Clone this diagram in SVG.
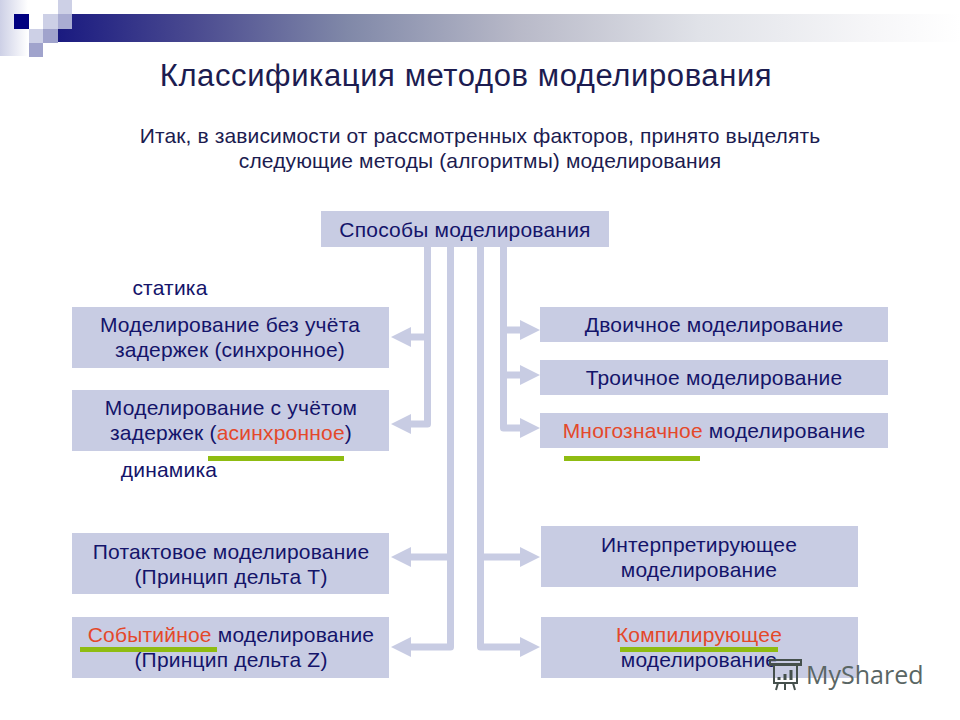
<svg xmlns="http://www.w3.org/2000/svg" width="960" height="720" viewBox="0 0 960 720">
<style>
text{font-family:"Liberation Sans",Arial,sans-serif;fill:#14146a;text-anchor:middle;font-size:21px;letter-spacing:.2px}
.box{fill:#c8cce3}
.t{font-size:31px;letter-spacing:.6px;fill:#1c1c50}
.s{font-size:21px;letter-spacing:.13px;fill:#1c1c50}
.r{fill:#e4482a}
.u{fill:#8fbc12}
.c{fill:none;stroke:#c8cce3;stroke-width:7;stroke-linejoin:round}
.h{fill:#c8cce3}
</style>
<defs>
<linearGradient id="bar" x1="0" x2="1" y1="0" y2="0"><stop offset="0" stop-color="#1a1a80"/><stop offset=".15" stop-color="#4a4a90"/><stop offset=".32" stop-color="#8088a8"/><stop offset=".51" stop-color="#b8b9c8"/><stop offset=".71" stop-color="#e0e2e8"/><stop offset=".9" stop-color="#f6f6f8"/><stop offset="1" stop-color="#ffffff"/></linearGradient>
<linearGradient id="side" x1="0" x2="1" y1="0" y2="0"><stop offset="0" stop-color="#cdd0e6"/><stop offset="1" stop-color="#ffffff"/></linearGradient>
</defs>
<rect width="960" height="720" fill="#fff"/>
<g id="header">
<rect x="0" y="0" width="28" height="56" fill="url(#side)"/>
<rect x="58" y="14" width="902" height="28" fill="url(#bar)"/>
<rect x="14" y="14" width="15" height="15" fill="#000080"/>
<rect x="43" y="14" width="15" height="15" fill="#cdd0e6"/>
<rect x="58" y="0" width="14" height="14" fill="#cdd0e6"/>
<rect x="58" y="14" width="14" height="15" fill="#a9acd2"/>
<rect x="29" y="29" width="14" height="14" fill="#cdd0e6"/>
<rect x="43" y="29" width="15" height="14" fill="#a0a3cc"/>
<rect x="29" y="43" width="14" height="14" fill="#a0a3cc"/>
</g>
<text class="t" x="466" y="86">Классификация методов моделирования</text>
<text class="s" x="480" y="143">Итак, в зависимости от рассмотренных факторов, принято выделять</text>
<text class="s" x="480" y="168">следующие методы (алгоритмы) моделирования</text>
<g id="connectors">
<path class="c" d="M427.500 247V424H405"/>
<path class="c" d="M427.500 337H405"/>
<path class="c" d="M450.500 247V647H405"/>
<path class="c" d="M450.500 557H405"/>
<path class="c" d="M480.500 247V647H525"/>
<path class="c" d="M480.500 557H525"/>
<path class="c" d="M503.500 247V428H525"/>
<path class="c" d="M503.500 330H525M503.500 375H525"/>
<path class="h" d="M391 337L411 327V347ZM391 424L411 414V434ZM391 557L411 547V567ZM391 647L411 637V657Z"/>
<path class="h" d="M540 330L520 320V340ZM540 375L520 365V385ZM540 428L520 418V438ZM540 557L520 547V567ZM540 647L520 637V657Z"/>
</g>
<g id="root"><rect class="box" x="321" y="211" width="288" height="36"/><text x="465" y="237">Способы моделирования</text></g>
<text x="170" y="295">статика</text>
<g id="l1"><rect class="box" x="72" y="307" width="317" height="61"/><text x="230" y="332">Моделирование без учёта</text><text x="230" y="357">задержек (синхронное)</text></g>
<g id="l2"><rect class="box" x="72" y="390" width="317" height="61"/><text x="231" y="415">Моделирование с учётом</text><text x="231" y="440">задержек (<tspan class="r">асинхронное</tspan>)</text></g>
<rect class="u" x="208" y="456" width="136" height="5"/>
<text x="169" y="477">динамика</text>
<g id="l3"><rect class="box" x="72" y="533" width="317" height="61"/><text x="231" y="559">Потактовое моделирование</text><text x="231" y="584">(Принцип дельта Т)</text></g>
<g id="l4"><rect class="box" x="72" y="617" width="317" height="61"/><text x="231" y="642"><tspan class="r">Событийное</tspan> моделирование</text><text x="231" y="667">(Принцип дельта Z)</text></g>
<rect class="u" x="80" y="647" width="137" height="5"/>
<g id="r1"><rect class="box" x="540" y="307" width="348" height="35"/><text x="714" y="332">Двоичное моделирование</text></g>
<g id="r2"><rect class="box" x="540" y="360" width="348" height="35"/><text x="714" y="385">Троичное моделирование</text></g>
<g id="r3"><rect class="box" x="540" y="413" width="348" height="35"/><text x="714" y="438"><tspan class="r">Многозначное</tspan> моделирование</text></g>
<rect class="u" x="564" y="456" width="136" height="5"/>
<g id="r4"><rect class="box" x="541" y="526" width="317" height="61"/><text x="699" y="552">Интерпретирующее</text><text x="699" y="577">моделирование</text></g>
<g id="r5"><rect class="box" x="541" y="617" width="317" height="61"/><text x="699" y="642" class="r">Компилирующее</text><text x="699" y="667">моделирование</text></g>
<rect class="u" x="620" y="647" width="158" height="5"/>
<g id="watermark">
<path d="M771 664H800M774 664V683H797V664M770 660H801V665H770ZM778 683L776 690M785 683V690M793 683L795 690" fill="none" stroke="#45504c" stroke-width="2"/>
<path d="M779 680V677M785 680V674M791 680V670" stroke="#45504c" stroke-width="3"/>
<text x="806" y="684" style="text-anchor:start;font-size:25px;letter-spacing:0;fill:#5a6664;font-family:'Open Sans',sans-serif">MyShared</text>
</g>
</svg>
